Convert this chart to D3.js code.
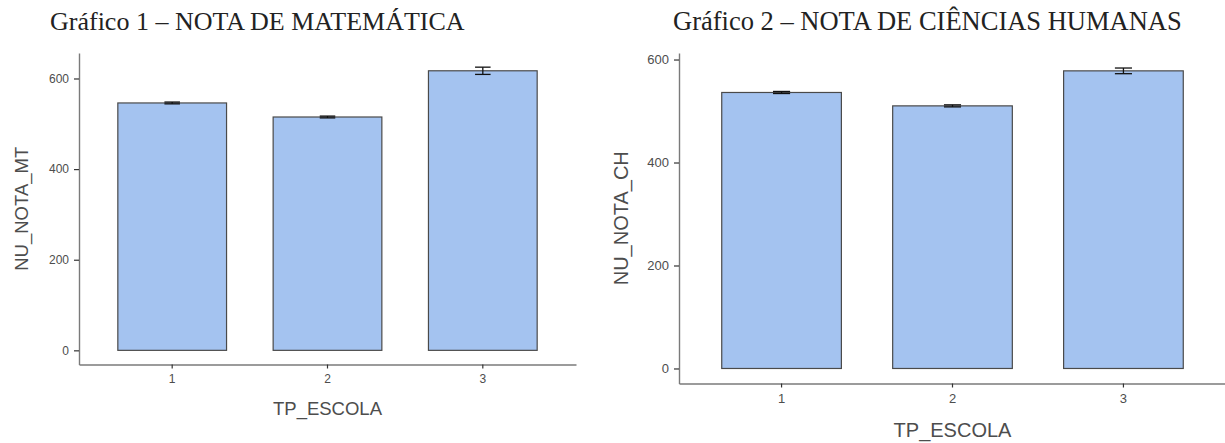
<!DOCTYPE html>
<html>
<head>
<meta charset="utf-8">
<script src="https://cdn.jsdelivr.net/npm/d3@7"></script>
<style>
  body { margin: 0; background: #fff; }
  svg { display: block; }
  .title { font-family: 'Liberation Serif', 'Times New Roman', serif; fill: #222; }
  .axis-title { font-family: 'Liberation Sans', Arial, sans-serif; fill: #4d4d4d; }
  .tick text { font-family: 'Liberation Sans', Arial, sans-serif; fill: #4d4d4d; }
</style>
</head>
<body>
<svg id="chart" width="1225" height="443"></svg>
<script>
'use strict';

// categories (TP_ESCOLA)
var escolas = ['1', '2', '3'];
var yTicks = [0, 200, 400, 600];

// Gráfico 1 - matemática
var notaMT = [546, 515, 617];
var erroMT = [2, 2, 8];

// Gráfico 2 - ciências humanas
var notaCH = [536, 510, 578];
var erroCH = [2, 2, 5.5];

var svg = d3.select('#chart');

var drawPanel = function(opts) {
    var rows = escolas.map(function(c, i) {
        return { cat: c, value: opts.values[i], err: opts.errors[i] };
    });

    var maxTop = d3.max(rows, function(d) { return d.value + d.err; });
    var pad = maxTop * 0.05;

    var xScale = d3.scaleBand()
        .domain(escolas)
        .range([opts.left, opts.right])
        .paddingInner(0.3)
        .paddingOuter(0.25);

    var yScale = d3.scaleLinear()
        .domain([-pad, maxTop + pad])
        .range([opts.bottom, opts.top]);

    var g = svg.append('g');

    // title
    svg.append('text')
        .attr('class', 'title')
        .attr('x', opts.titleX)
        .attr('y', 30)
        .style('font-size', opts.titleSize + 'px')
        .text(opts.title);

    // bars
    g.selectAll('rect.bar')
        .data(rows)
        .enter()
        .append('rect')
        .attr('class', 'bar')
        .attr('x', function(d) { return xScale(d.cat); })
        .attr('width', xScale.bandwidth())
        .attr('y', function(d) { return yScale(d.value); })
        .attr('height', function(d) { return yScale(0) - yScale(d.value); })
        .attr('fill', '#a4c3f0')
        .attr('stroke', '#4a4a4a')
        .attr('stroke-width', 1.2);

    // error bars
    var capW = xScale.step() * 0.1 / 2;
    var eb = g.selectAll('g.err')
        .data(rows)
        .enter()
        .append('g')
        .attr('class', 'err')
        .attr('stroke', '#111')
        .attr('stroke-width', 1.3);
    var cx = function(d) { return xScale(d.cat) + xScale.bandwidth() / 2; };
    eb.append('line')
        .attr('x1', cx).attr('x2', cx)
        .attr('y1', function(d) { return yScale(d.value + d.err); })
        .attr('y2', function(d) { return yScale(d.value - d.err); });
    eb.append('line')
        .attr('x1', function(d) { return cx(d) - capW; })
        .attr('x2', function(d) { return cx(d) + capW; })
        .attr('y1', function(d) { return yScale(d.value + d.err); })
        .attr('y2', function(d) { return yScale(d.value + d.err); });
    eb.append('line')
        .attr('x1', function(d) { return cx(d) - capW; })
        .attr('x2', function(d) { return cx(d) + capW; })
        .attr('y1', function(d) { return yScale(d.value - d.err); })
        .attr('y2', function(d) { return yScale(d.value - d.err); });

    // axes
    var yAxis = d3.axisLeft(yScale).tickValues(yTicks).tickSize(5).tickSizeOuter(0).tickPadding(5);
    var xAxis = d3.axisBottom(xScale).tickSize(4).tickSizeOuter(0).tickPadding(6);

    var ya = svg.append('g')
        .attr('transform', 'translate(' + opts.left + ',0)')
        .call(yAxis);
    var xa = svg.append('g')
        .attr('transform', 'translate(0,' + opts.bottom + ')')
        .call(xAxis);

    [ya, xa].forEach(function(a) {
        a.select('.domain').attr('stroke', '#7a7a7a').attr('stroke-width', 1.4);
        a.selectAll('.tick line').attr('stroke', '#333').attr('stroke-width', 1.2);
        a.selectAll('.tick text').style('font-size', opts.tickSize + 'px');
    });

    // axis titles
    svg.append('text')
        .attr('class', 'axis-title')
        .attr('text-anchor', 'middle')
        .attr('x', (opts.left + opts.right) / 2)
        .attr('y', opts.xTitleY)
        .style('font-size', opts.axisSize + 'px')
        .text('TP_ESCOLA');

    svg.append('text')
        .attr('class', 'axis-title')
        .attr('text-anchor', 'middle')
        .attr('transform', 'translate(' + opts.yTitleX + ',' + ((opts.top + opts.bottom) / 2) + ') rotate(-90)')
        .style('font-size', opts.axisSize + 'px')
        .text(opts.yLabel);
};

drawPanel({
    title: 'Gráfico 1 – NOTA DE MATEMÁTICA',
    titleX: 50, titleSize: 26,
    values: notaMT, errors: erroMT, yLabel: 'NU_NOTA_MT',
    left: 79, right: 576, top: 53, bottom: 364.5,
    xTitleY: 415, yTitleX: 28, axisSize: 18.5, tickSize: 12
});

drawPanel({
    title: 'Gráfico 2 – NOTA DE CIÊNCIAS HUMANAS',
    titleX: 673, titleSize: 26.5,
    values: notaCH, errors: erroCH, yLabel: 'NU_NOTA_CH',
    left: 679, right: 1226, top: 53, bottom: 383.5,
    xTitleY: 437, yTitleX: 628, axisSize: 20, tickSize: 13
});
</script>
</body>
</html>
